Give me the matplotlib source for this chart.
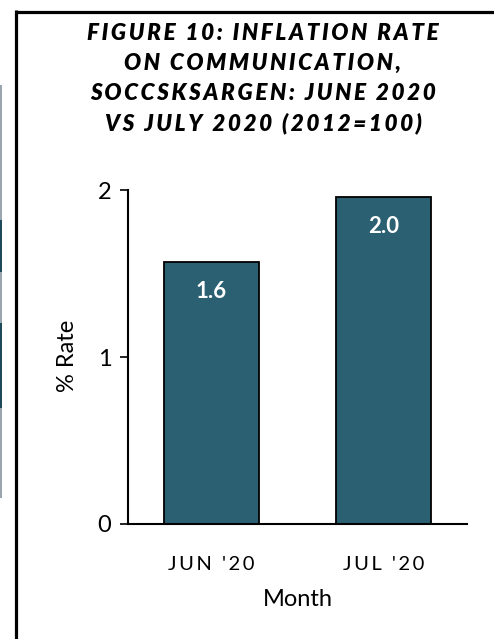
import matplotlib.pyplot as plt
from matplotlib.lines import Line2D
from matplotlib.patches import Rectangle

months = ["JUN '20", "JUL '20"]
rates = [1.57, 1.96]
rate_labels = ["1.6", "2.0"]
title_lines = ["FIGURE 10: INFLATION RATE",
               "ON COMMUNICATION,",
               "SOCCSKSARGEN: JUNE 2020",
               "VS JULY 2020 (2012=100)"]

W, H = 494, 639
plt.rcParams['font.family'] = ['Lato', 'DejaVu Sans']

fig = plt.figure(figsize=(W / 100, H / 100), dpi=100)


def fx(px):
    return px / W


def fy(py):
    return 1 - py / H


def spaced(s):
    # fake letter spacing with thin spaces
    return '\u2009'.join(s)


# frame of the panel (only top and left edges are inside the crop)
fig.add_artist(Line2D([fx(15.5), 1], [fy(11.5), fy(11.5)], transform=fig.transFigure,
                      color='black', lw=2.3, solid_capstyle='butt'))
fig.add_artist(Line2D([fx(15.5), fx(15.5)], [fy(10), 0], transform=fig.transFigure,
                      color='black', lw=2.3, solid_capstyle='butt'))

# sliver of the neighbouring chart at the far left edge
fig.add_artist(Rectangle((0, fy(498)), fx(2), fy(85) - fy(498), transform=fig.transFigure,
                         facecolor='#9aa6ae', edgecolor='none'))
for top, bot in [(220, 272), (323, 408)]:
    fig.add_artist(Rectangle((0, fy(bot)), fx(2), fy(top) - fy(bot), transform=fig.transFigure,
                             facecolor='#1d4a5a', edgecolor='none'))

# title
for line, yc in zip(title_lines, [33, 63, 93, 123]):
    fig.text(fx(263), fy(yc), spaced(line), ha='center', va='center',
             fontsize=16.2, fontweight='heavy', fontstyle='italic', color='black')

ax = fig.add_axes([fx(128), fy(524), fx(467) - fx(128), fy(190) - fy(524)])
ax.bar(range(len(months)), rates, width=0.553, color='#2B6073',
       edgecolor='black', linewidth=1.3, zorder=2)
for i, (r, lab) in enumerate(zip(rates, rate_labels)):
    ax.text(i, r - 0.18, lab, ha='center', va='center', color='white',
            fontsize=16, fontweight='bold')

ax.set_xlim(-0.485, 1.485)
ax.set_ylim(0, 2)
ax.set_yticks([0, 1, 2])
ax.set_xticks(range(len(months)))
ax.set_xticklabels([spaced(m) for m in months], fontsize=14.5)
ax.tick_params(axis='x', length=0, pad=23)
ax.tick_params(axis='y', length=6, width=1.2, pad=6, labelsize=17)
for s in ['top', 'right']:
    ax.spines[s].set_visible(False)
for s in ['left', 'bottom']:
    ax.spines[s].set_linewidth(1.5)

fig.text(fx(298), fy(599), 'Month', ha='center', va='center', fontsize=17)
fig.text(fx(67), fy(356), '% Rate', ha='center', va='center', rotation=90, fontsize=17)

fig.savefig('out.png', dpi=100)
